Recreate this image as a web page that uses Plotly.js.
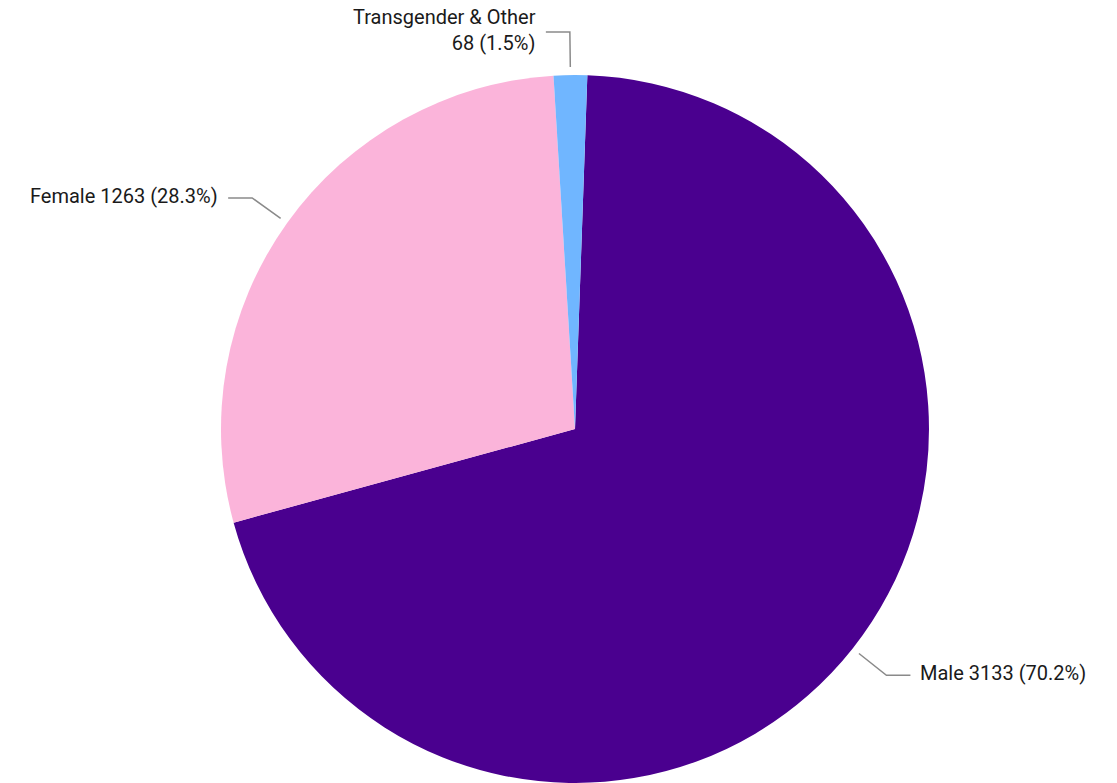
<!DOCTYPE html>
<html>
<head>
<meta charset="utf-8">
<script src="https://cdn.plot.ly/plotly-3.0.1.min.js"></script>
<style>
  html, body { margin: 0; padding: 0; background: #ffffff; }
  #chart { width: 1117px; height: 783px; }
</style>
</head>
<body>
<div id="chart"></div>
<script>
// Data
const categories = ['Male', 'Female', 'Transgender & Other'];
const counts = [3133, 1263, 68];
const sliceColors = ['#4a008f', '#fbb4da', '#70b6ff'];

// Layout geometry
const W = 1117, H = 783;
const M = { l: 221, r: 188, t: 75, b: 0 };
const plotW = W - M.l - M.r, plotH = H - M.t - M.b;
const cx = M.l + plotW / 2, cy = M.t + plotH / 2;
const R = Math.min(plotW, plotH) / 2;
const rotationDeg = 2;

const total = counts.reduce((a, b) => a + b, 0);
const toPaperX = px => (px - M.l) / plotW;
const toPaperY = py => (H - M.b - py) / plotH;

const shapes = [];
const annotations = [];
let acc = 0;
counts.forEach((v, i) => {
  const midFrac = (acc + v / 2) / total;
  acc += v;
  const ang = (rotationDeg + midFrac * 360) * Math.PI / 180;
  const sx = Math.sin(ang), sy = -Math.cos(ang);
  const r1 = R + 8, r2 = R + 43;
  const p1 = [cx + sx * r1, cy + sy * r1];
  const p2 = [cx + sx * r2, cy + sy * r2];
  const side = sx >= 0 ? 1 : -1;
  const p3 = [p2[0] + side * 24, p2[1]];
  shapes.push({
    type: 'path', xref: 'paper', yref: 'paper',
    path: `M ${toPaperX(p1[0])} ${toPaperY(p1[1])} L ${toPaperX(p2[0])} ${toPaperY(p2[1])} L ${toPaperX(p3[0])} ${toPaperY(p3[1])}`,
    line: { color: '#8a8a8a', width: 1.5 }
  });
  const pct = (v / total * 100).toFixed(1);
  const txt = categories[i].length > 12
    ? `${categories[i]}<br>${v} (${pct}%)`
    : `${categories[i]} ${v} (${pct}%)`;
  annotations.push({
    xref: 'paper', yref: 'paper',
    x: toPaperX(p3[0] + side * 8), y: toPaperY(p3[1] - 2),
    xanchor: side > 0 ? 'left' : 'right', yanchor: 'middle',
    align: 'right',
    text: txt, showarrow: false,
    font: { family: 'Roboto, sans-serif', size: 20, color: '#1a1a1a' }
  });
});

const trace = {
  type: 'pie',
  labels: categories,
  values: counts,
  sort: false,
  direction: 'clockwise',
  rotation: rotationDeg,
  textinfo: 'none',
  hoverinfo: 'label+value+percent',
  marker: { colors: sliceColors, line: { width: 0 } },
  showlegend: false
};

Plotly.newPlot('chart', [trace], {
  width: W, height: H,
  margin: M,
  paper_bgcolor: '#ffffff',
  plot_bgcolor: '#ffffff',
  showlegend: false,
  shapes: shapes,
  annotations: annotations
}, { displayModeBar: false, staticPlot: true });
</script>
</body>
</html>
